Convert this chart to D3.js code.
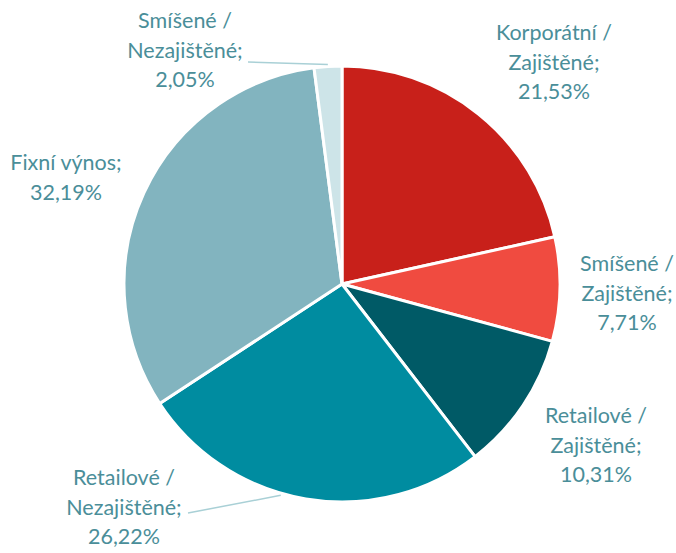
<html>
<head>
  <meta charset="utf-8">
  <script src="https://d3js.org/d3.v7.min.js"></script>
  <style>
    body { margin: 0; background: #fff; }
    text { font-family: Lato, "Open Sans", sans-serif; font-size: 21.5px; fill: #4A8E99; }
  </style>
</head>
<body>
<script>
// data
var kategorie = [
  ["Korporátní /", "Zajištěné;"],
  ["Smíšené /", "Zajištěné;"],
  ["Retailové /", "Zajištěné;"],
  ["Retailové /", "Nezajištěné;"],
  ["Fixní výnos;"],
  ["Smíšené /", "Nezajištěné;"]
];
var hodnoty = [21.53, 7.71, 10.31, 26.22, 32.19, 2.05];
var popisky = ["21,53%", "7,71%", "10,31%", "26,22%", "32,19%", "2,05%"];

// styl
var barvy = ["#C8201A", "#F04B40", "#005A66", "#008CA0", "#82B4BF", "#CDE4E8"];
var popiskyXY = [[554, 40], [627, 271], [596, 423], [124, 485], [66, 170], [185, 28]];

var sirka = 676, vyska = 553;
var cx = 342, cy = 284, r = 218;

var svg = d3.select("body").append("svg")
  .attr("width", sirka)
  .attr("height", vyska);

var pie = d3.pie().sort(null).value(d => d);
var arc = d3.arc().innerRadius(0).outerRadius(r);

var g = svg.append("g").attr("transform", "translate(" + cx + "," + cy + ")");

var vysece = pie(hodnoty);

g.selectAll("path")
  .data(vysece)
  .enter()
  .append("path")
  .attr("d", arc)
  .attr("fill", (d, i) => barvy[i])
  .attr("stroke", "#fff")
  .attr("stroke-width", 3)
  .attr("stroke-linejoin", "round");

// vodici cary: [index vysece, zacatek cary, podil uhlu ve vyseci]
[[5, [-94, -222], 0.5], [3, [-154, 229], 0.57]].forEach(function (p) {
  var a = vysece[p[0]];
  var ang = a.startAngle + (a.endAngle - a.startAngle) * p[2];
  var k = [Math.sin(ang) * (r + 2), -Math.cos(ang) * (r + 2)];
  g.append("line")
    .attr("x1", p[1][0]).attr("y1", p[1][1])
    .attr("x2", k[0]).attr("y2", k[1])
    .attr("stroke", "#A9D0D6")
    .attr("stroke-width", 1.5);
});

// popisky
var lh = 29.5;
kategorie.forEach(function (radky, i) {
  var t = svg.append("text")
    .attr("text-anchor", "middle")
    .attr("x", popiskyXY[i][0])
    .attr("y", popiskyXY[i][1]);
  radky.concat([popisky[i]]).forEach(function (s, j) {
    t.append("tspan")
      .attr("x", popiskyXY[i][0])
      .attr("dy", j === 0 ? 0 : lh)
      .text(s);
  });
});
</script>
</body>
</html>
